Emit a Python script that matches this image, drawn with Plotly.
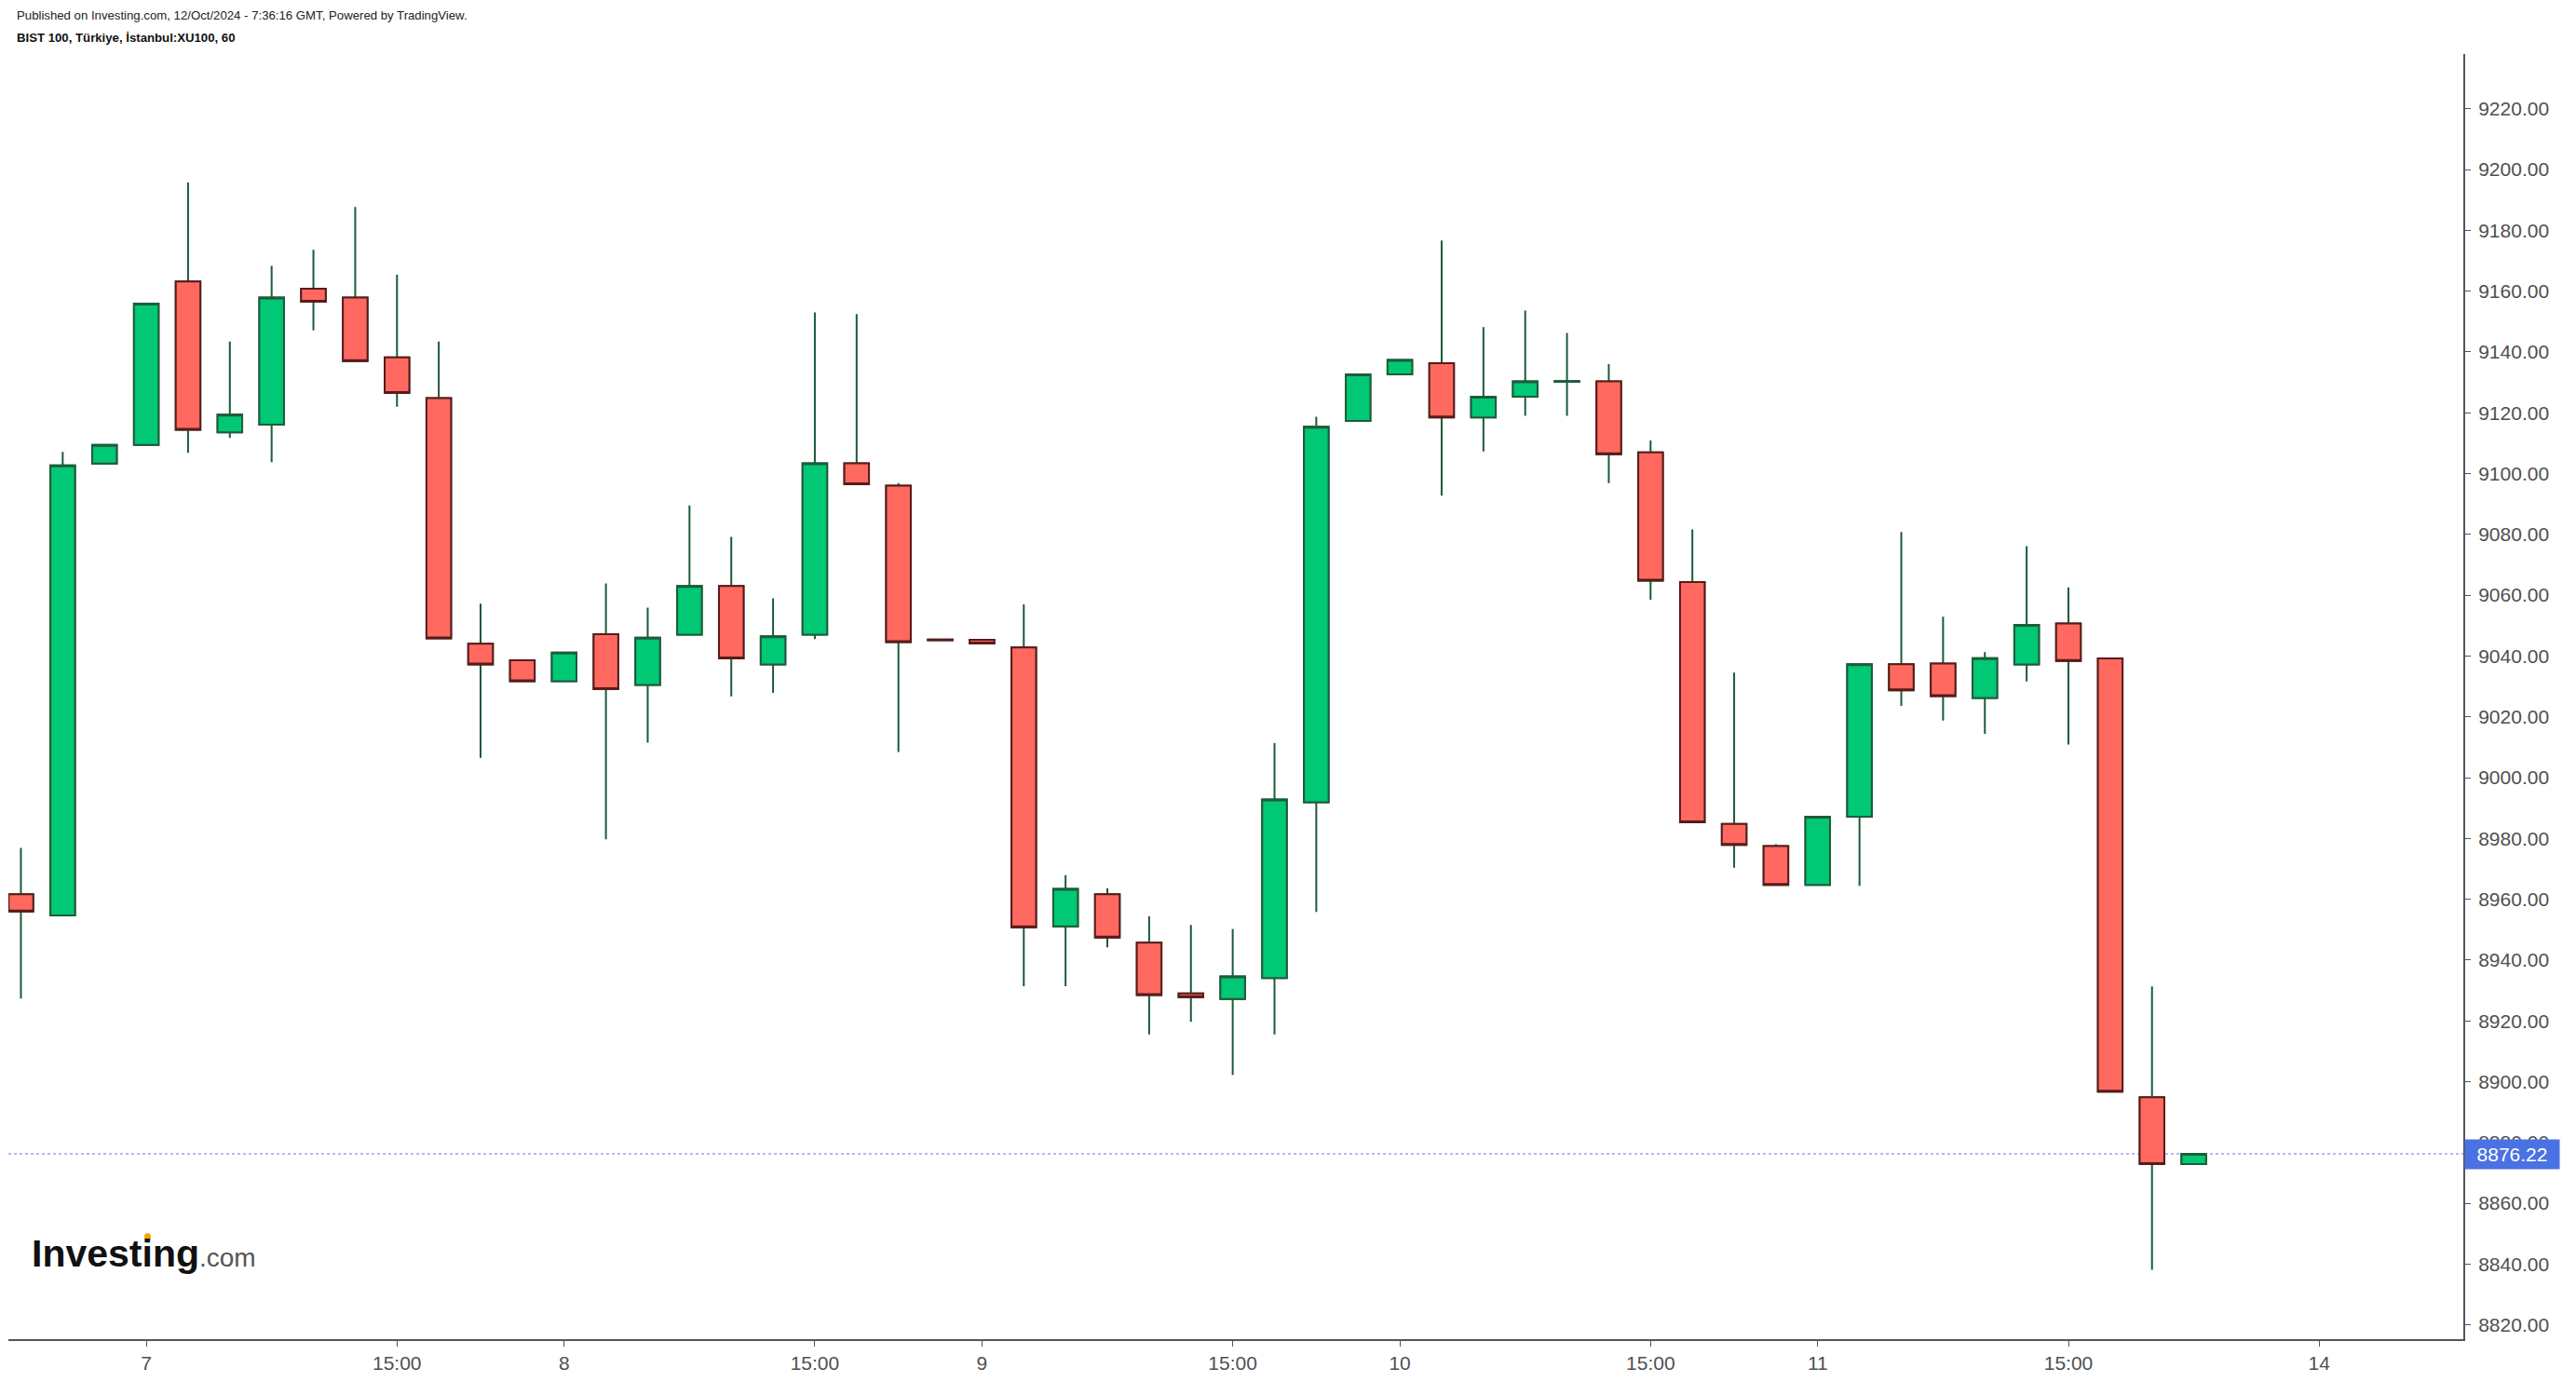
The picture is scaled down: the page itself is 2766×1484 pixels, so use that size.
import plotly.graph_objects as go

# ---------------- data ----------------
bar_index = list(range(53))
opens = [8961.6, 8954.7, 9103.3, 9109.4, 9163.2, 9113.6, 9116.1, 9160.8, 9157.9, 9138.2,
         9124.8, 9044.0, 9038.6, 9031.7, 9047.2, 9030.5, 9047.0, 9063.0, 9037.2, 9047.0,
         9103.4, 9096.0, 9045.4, 9045.3, 9042.8, 8951.1, 8961.6, 8945.7, 8929.0, 8927.2,
         8934.1, 8991.9, 9117.3, 9132.6, 9136.3, 9118.5, 9125.3, 9130.2, 9130.3, 9107.0,
         9064.3, 8984.8, 8977.5, 8964.7, 8987.1, 9037.3, 9037.5, 9026.2, 9037.2, 9050.7,
         9039.2, 8894.9, 8872.9]
highs = [8976.9, 9107.1, 9109.4, 9155.9, 9195.7, 9143.4, 9168.3, 9173.6, 9187.7, 9165.4,
         9143.4, 9057.2, 9038.6, 9041.1, 9063.9, 9055.9, 9089.5, 9079.2, 9059.0, 9153.0,
         9152.5, 9096.9, 9045.4, 9045.3, 9057.0, 8967.9, 8963.6, 8954.4, 8951.5, 8950.2,
         9011.3, 9118.7, 9132.6, 9137.4, 9176.7, 9148.2, 9153.6, 9146.3, 9136.0, 9110.9,
         9081.6, 9034.5, 8978.1, 8987.1, 9037.3, 9080.8, 9052.9, 9041.3, 9076.1, 9062.6,
         9039.2, 8931.3, 8876.22]
lows = [8927.3, 8954.7, 9103.3, 9109.4, 9106.8, 9111.7, 9103.8, 9147.1, 9137.0, 9122.0,
        9045.8, 9006.5, 9031.7, 9031.7, 8979.7, 9011.5, 9047.0, 9026.7, 9027.9, 9045.6,
        9096.5, 9008.4, 9045.2, 9044.1, 8931.4, 8931.4, 8944.2, 8915.5, 8919.7, 8902.2,
        8915.5, 8955.8, 9117.3, 9132.6, 9092.7, 9107.3, 9119.0, 9119.0, 9096.9, 9058.5,
        8985.3, 8970.4, 8964.7, 8964.7, 8964.4, 9023.6, 9018.8, 9014.4, 9031.6, 9010.9,
        8896.7, 8838.1, 8872.9]
closes = [8956.0, 9102.7, 9109.4, 9155.9, 9114.4, 9119.4, 9157.9, 9156.5, 9137.0, 9126.5,
          9045.8, 9037.2, 9031.7, 9041.1, 9029.1, 9046.0, 9063.0, 9039.2, 9046.5, 9103.4,
          9096.5, 9044.6, 9045.2, 9044.1, 8950.8, 8963.4, 8947.4, 8928.5, 8927.8, 8934.6,
          8992.8, 9115.4, 9132.6, 9137.4, 9118.5, 9125.3, 9130.3, 9130.4, 9106.4, 9064.8,
          8985.3, 8977.9, 8964.7, 8987.1, 9037.3, 9028.7, 9026.8, 9039.3, 9050.2, 9038.4,
          8896.7, 8872.9, 8876.22]

tick_positions = [3, 9, 13, 19, 23, 29, 33, 39, 43, 49, 55]
tick_labels = ["7", "15:00", "8", "15:00", "9", "15:00", "10", "15:00", "11", "15:00", "14"]

header_line1 = "Published on Investing.com, 12/Oct/2024 - 7:36:16 GMT, Powered by TradingView."
header_line2 = "BIST 100, Türkiye, İstanbul:XU100, 60"

# ---------------- styling ----------------
W, H = 2766, 1484
ML, MR, MT, MB = 9, 121, 58, 43
PW, PH = W - ML - MR, H - MT - MB
FONT = "Liberation Sans, Arial, sans-serif"
UP_FILL, DN_FILL = "#00C875", "#FF6960"
UP_LINE, DN_LINE = "#1E5C3B", "#5B1A1A"
WICK = "#1B5B38"
AXIS = "#555555"


def px_x(px):
    return (px - ML) / PW


def px_y(py):
    return 1 - (py - MT) / PH


body_hi = [max(o, c) for o, c in zip(opens, closes)]
body_lo = [min(o, c) for o, c in zip(opens, closes)]

fig = go.Figure()

# wicks (all dark green)
fig.add_trace(go.Candlestick(
    x=bar_index, open=opens, high=highs, low=lows, close=closes,
    increasing=dict(line=dict(color=WICK, width=2), fillcolor=UP_FILL),
    decreasing=dict(line=dict(color=WICK, width=2), fillcolor=DN_FILL),
    whiskerwidth=0, showlegend=False, hoverinfo="skip",
))
# bodies with their own outlines
fig.add_trace(go.Candlestick(
    x=bar_index, open=opens, high=body_hi, low=body_lo, close=closes,
    increasing=dict(line=dict(color=UP_LINE, width=2), fillcolor=UP_FILL),
    decreasing=dict(line=dict(color=DN_LINE, width=2), fillcolor=DN_FILL),
    whiskerwidth=0, showlegend=False, hoverinfo="skip",
))

last_price = closes[-1]

fig.add_shape(type="line", xref="paper", x0=0, x1=1, yref="y", y0=last_price, y1=last_price,
              line=dict(color="rgba(80,105,225,0.6)", width=1.5, dash="dot"), layer="below")

annotations = [
    dict(text=header_line1, xref="paper", yref="paper", x=px_x(16), y=px_y(16),
         xanchor="left", yanchor="middle", showarrow=False,
         font=dict(family=FONT, size=13.2, color="#222222")),
    dict(text="<b>" + header_line2 + "</b>", xref="paper", yref="paper", x=px_x(16), y=px_y(40),
         xanchor="left", yanchor="middle", showarrow=False,
         font=dict(family=FONT, size=13.2, color="#111111")),
    dict(text=f"{last_price:.2f}", xref="paper", yref="y", x=1, y=last_price,
         xanchor="left", yanchor="middle", showarrow=False, xshift=1,
         width=101, height=31, borderpad=0, bgcolor="#4A72E2",
         font=dict(family=FONT, size=21, color="#ffffff")),
    dict(text="<b>Investing</b><span style='font-size:28px;color:#555555'>.com</span>",
         xref="paper", yref="paper", x=px_x(32), y=px_y(1349),
         xanchor="left", yanchor="middle", showarrow=False,
         font=dict(family=FONT, size=41, color="#111111")),
]

fig.add_shape(type="circle", xref="paper", yref="paper",
              x0=px_x(155), x1=px_x(162), y0=px_y(1335), y1=px_y(1327),
              fillcolor="#F5A300", line=dict(width=0))

fig.update_layout(
    width=W, height=H,
    margin=dict(l=ML, r=MR, t=MT, b=MB, pad=0),
    paper_bgcolor="white", plot_bgcolor="white",
    boxgap=0.41, boxgroupgap=0,
    showlegend=False, hovermode=False,
    annotations=annotations,
    font=dict(family=FONT, size=21, color="#4f4f4f"),
    xaxis=dict(
        range=[-0.3, 58.45], showgrid=False, zeroline=False,
        showline=True, linecolor=AXIS, linewidth=2,
        ticks="outside", ticklen=6, tickwidth=1, tickcolor=AXIS,
        tickmode="array", tickvals=tick_positions, ticktext=tick_labels,
        tickfont=dict(family=FONT, size=21, color="#4f4f4f"),
        rangeslider=dict(visible=False), fixedrange=True,
    ),
    yaxis=dict(
        side="right", range=[8815.3, 9238.0], showgrid=False, zeroline=False,
        showline=True, linecolor=AXIS, linewidth=2,
        ticks="outside", ticklen=6, tickwidth=1, tickcolor=AXIS,
        tick0=8820, dtick=20, tickformat=".2f", ticklabelstandoff=4,
        tickfont=dict(family=FONT, size=21, color="#4f4f4f"),
        fixedrange=True,
    ),
)

fig.write_html("out.html", config={"displayModeBar": False})
